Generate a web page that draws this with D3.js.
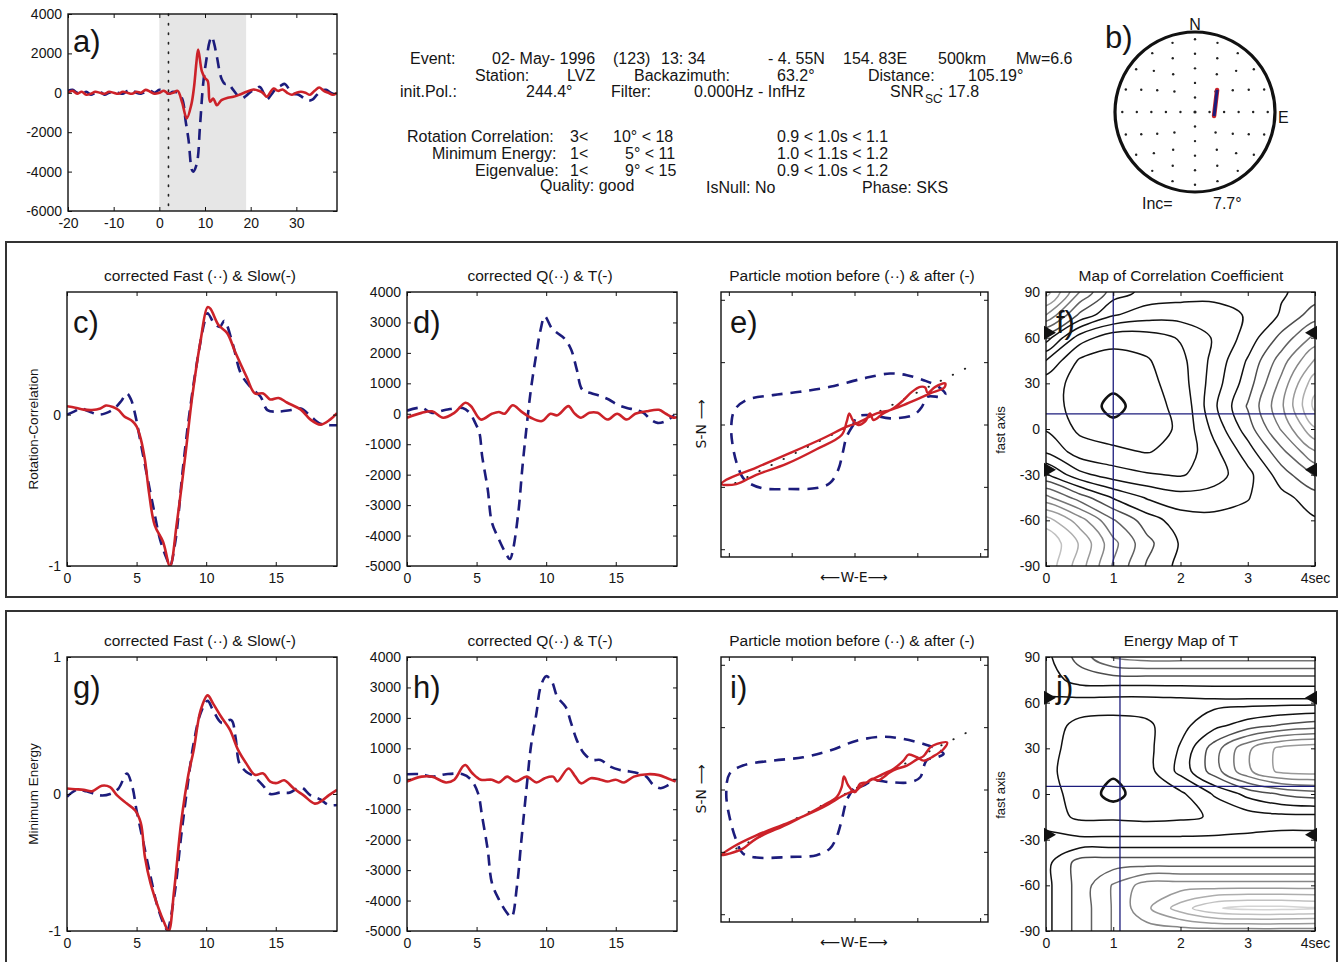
<!DOCTYPE html>
<html><head><meta charset="utf-8">
<script src="https://cdn.jsdelivr.net/npm/d3@7"></script>
<style>body{margin:0;background:#fff}svg{display:block}</style>
</head><body><svg id="fig" width="1341" height="962"></svg>
<script>
// ---------------- DATA ----------------
// panel a: raw Q (dashed) and T (solid) seismograms [time s, amplitude]
const seisQ = [[-20,100],[-19,150],[-18,0],[-17,-50],[-16,50],[-15,-100],[-14,0],[-13,50],[-12,-100],[-11,0],[-10,50],[-9,0],[-8,-50],[-7,100],[-6,150],[-5,0],[-4,-50],[-3,50],[-2,100],[-1,0],[0,150],[1,100],[2,-50],[3,50],[4,0],[5,-300],[5.8,-1500],[6.4,-2400],[7.1,-3900],[7.4,-4000],[8.2,-3600],[8.9,-1700],[9.6,470],[10.4,1830],[11.0,2600],[11.5,2850],[12.0,2500],[12.6,1830],[13.6,730],[14.4,450],[15.1,470],[16,200],[17,-100],[18,-300],[19,-150],[20,50],[21,150],[22,300],[23,-100],[23.5,-350],[24.5,-100],[25.5,200],[26.5,350],[27.5,450],[28.5,150],[29.5,-50],[30.5,-100],[31.5,-250],[32.5,-400],[33.5,-350],[34.5,-100],[35.5,100],[36.5,150],[37.5,0],[38.9,-100]];
const seisT = [[-20,0],[-19,100],[-18,-50],[-17,50],[-16,-100],[-15,-50],[-14,50],[-13,0],[-12,-50],[-11,50],[-10,0],[-9,-50],[-8,50],[-7,0],[-6,-50],[-5,50],[-4,0],[-3,150],[-2,50],[-1,-50],[0,0],[1,100],[2,-50],[3,0],[4,100],[5,-500],[6,-1300],[7,-600],[7.6,300],[8.1,1500],[8.5,2200],[9.3,1100],[10,750],[10.6,600],[11.1,-450],[11.8,-290],[12.6,-630],[13.6,-370],[15,-250],[16.2,-200],[17.5,-100],[19.1,50],[20.6,170],[21.8,100],[22.8,-30],[23.5,-200],[25,220],[26,100],[27,170],[28,0],[29,-100],[30,0],[31,50],[32,0],[33,-100],[34,100],[35,270],[36,100],[37,0],[38,-100],[38.9,0]];
const windowStart = 0, windowEnd = 19, pickTime = 2;
const aXTicks = [-20,-10,0,10,20,30], aYTicks = [-6000,-4000,-2000,0,2000,4000];

// panel b: stereonet
const stereoRings = [1,2,3,4,5], stereoDotsPerRing = [4,8,12,16,20];
const stereoStick = [[1.31,-0.28],[1.52,1.52]];
const incidence = "7.7°";

// header lines [text, x, y]
const headerTexts = [
 ["Event:",410,64],["02- May- 1996",492,64],["(123)",613,64],["13: 34",661,64],["- 4. 55N",768,64],["154. 83E",843,64],["500km",938,64],["Mw=6.6",1016,64],
 ["Station:",475,81],["LVZ",567,81],["Backazimuth:",634,81],["63.2°",777,81],["Distance:",868,81],["105.19°",968,81],
 ["init.Pol.:",400,97],["244.4°",526,97],["Filter:",611,97],["0.000Hz - InfHz",694,97],["SNR",890,97],[": 17.8",939,97],
 ["Rotation Correlation:",407,142],["3<",570,142],["10° < 18",613,142],["0.9 < 1.0s < 1.1",777,142],
 ["Minimum Energy:",432,159],["1<",570,159],["5° < 11",625,159],["1.0 < 1.1s < 1.2",777,159],
 ["Eigenvalue:",475,176],["1<",570,176],["9° < 15",625,176],["0.9 < 1.0s < 1.2",777,176],
 ["Quality: good",540,191],["IsNull: No",706,193],["Phase: SKS",862,193]
];

// c) rotation-correlation corrected fast/slow (normalised)
const rcFast = [[0,0.0],[0.5,0.02],[1.0,0.04],[1.6,0.02],[2.3,0.0],[2.8,0.01],[3.4,0.04],[3.9,0.09],[4.3,0.14],[4.6,0.1],[4.9,0.0],[5.2,-0.14],[5.7,-0.38],[6.2,-0.61],[6.7,-0.83],[7.2,-0.96],[7.4,-1.0],[7.8,-0.83],[8.3,-0.38],[8.8,0.01],[9.4,0.38],[9.9,0.62],[10.1,0.67],[10.6,0.60],[11.0,0.58],[11.3,0.62],[11.9,0.47],[12.5,0.27],[13.2,0.18],[13.9,0.12],[14.4,0.03],[15.1,0.02],[16.1,0.03],[16.8,0.04],[17.5,-0.01],[18.2,-0.06],[18.9,-0.07],[19.4,-0.07]];
const rcSlow = [[0,0.055],[0.6,0.045],[1.2,0.033],[1.8,0.03],[2.4,0.04],[2.8,0.06],[3.3,0.05],[3.7,0.03],[4.1,-0.01],[4.7,-0.044],[5.0,-0.077],[5.3,-0.16],[5.6,-0.30],[5.9,-0.52],[6.3,-0.73],[6.9,-0.84],[7.4,-1.0],[7.9,-0.71],[8.5,-0.27],[9.0,0.12],[9.6,0.49],[10.1,0.71],[10.3,0.70],[10.9,0.59],[11.5,0.54],[12.1,0.41],[12.9,0.25],[13.5,0.14],[14.1,0.14],[14.6,0.10],[15.2,0.11],[15.8,0.08],[16.8,0.033],[17.5,-0.033],[18.2,-0.066],[18.9,-0.033],[19.4,0.01]];
// d) corrected Q / T (rotation correlation)
const rcQ = [[0,100],[1.0,200],[1.8,30],[2.8,130],[4.0,190],[4.5,30],[4.9,-300],[5.2,-620],[5.4,-1390],[5.8,-2480],[6.1,-3570],[6.6,-4120],[7.0,-4500],[7.4,-4770],[7.6,-4500],[8.0,-3240],[8.3,-1720],[8.6,-400],[8.9,790],[9.3,1990],[9.6,2760],[9.9,3200],[10.4,2810],[10.8,2650],[11.3,2480],[11.8,2100],[12.2,1450],[12.6,790],[13.2,680],[13.9,580],[14.5,470],[15.1,300],[15.8,190],[16.4,130],[17.0,30],[17.5,-190],[18.0,-300],[18.6,-240],[19.2,-50]];
const rcT = [[0,-130],[1.05,30],[1.8,80],[2.6,-130],[3.4,30],[4.2,360],[4.6,250],[5.3,-190],[6.1,0],[6.6,60],[7.0,0],[7.6,280],[8.2,80],[8.9,-130],[9.7,-240],[10.3,0],[10.8,-50],[11.6,250],[12.0,30],[12.5,-130],[13.1,30],[13.7,30],[14.4,-190],[15.1,0],[15.8,-190],[16.4,0],[17.2,80],[18.1,130],[18.6,0],[19.2,-130],[19.4,-100]];
// e) particle motion before / after (E, N)
const rcBefore = [[-38,-16],[-249,-390],[-377,-920],[-518,-1454],[-783,-1879],[-1208,-2038],[-2061,-2070],[-2965,-2038],[-3498,-1773],[-3713,-1348],[-3872,-709],[-3924,-70],[-3818,463],[-3444,783],[-2594,943],[-1741,1048],[-783,1208],[281,1476],[1134,1636],[1668,1582],[2198,1422],[2677,1208],[2891,974],[2786,888],[2307,888],[2147,569],[1879,304],[1134,198],[495,304],[70,249],[-38,-16]];
const rcAfter = [[70,38],[-249,-70],[-997,-441],[-2061,-920],[-3125,-1380],[-4083,-1773],[-4240,-1911],[-3764,-1911],[-3125,-1613],[-2166,-1262],[-1208,-792],[-409,-335],[-249,89],[-166,358],[-58,144],[121,-16],[335,89],[495,358],[601,144],[920,358],[1240,518],[1559,783],[1827,1048],[2093,1208],[2252,1188],[2326,1016],[2572,1208],[2891,1316],[2860,1188],[2412,997],[1987,805],[1559,623],[1134,463],[709,358],[281,144],[70,38]];
const rcPol = [[-3800,-1880],[3640,1850]];
// f) correlation map (rows: fast axis 90..-90, cols: delay 0..4 s)
const mapDt = [0,0.5,1,1.5,2,2.5,3,3.5,4];
const mapPhi = [90,75,60,45,30,15,0,-15,-30,-45,-60,-75,-90];
const corrMap = [
 [12.0,8.5,6.0,5.2,5.0,4.9,5.0,5.4,5.9],
 [9.5,6.3,4.6,4.0,3.9,4.0,4.6,5.6,7.0],
 [6.0,3.0,1.9,2.0,2.6,3.6,4.9,6.8,8.8],
 [3.5,1.35,1.1,1.4,2.2,3.8,5.6,8.0,10.6],
 [1.9,1.2,0.9,1.2,2.0,4.0,6.0,8.8,12.2],
 [1.56,1.45,0.0,1.35,1.6,4.3,6.6,9.3,12.8],
 [2.4,1.3,1.0,1.2,1.6,3.8,6.0,8.6,11.4],
 [3.4,2.0,1.7,1.45,1.8,3.2,5.0,7.2,9.4],
 [5.6,3.8,3.0,2.6,2.4,3.0,4.2,6.0,7.6],
 [8.8,7.0,5.4,4.4,3.9,4.0,4.45,5.2,6.0],
 [12.0,10.0,7.6,6.0,5.0,4.8,4.8,5.0,5.4],
 [13.4,11.4,8.8,6.8,5.4,5.0,4.9,5.0,5.2],
 [13.2,11.0,8.4,6.4,5.2,5.0,5.0,5.1,5.3]];
const rcBest = [1.0, 10];
// g) minimum energy corrected fast/slow
const meFast = [[0,-0.02],[0.7,0.03],[1.4,0.02],[2.4,-0.01],[3.1,0.0],[3.7,0.04],[4.3,0.15],[4.7,0.05],[5.0,-0.12],[5.5,-0.36],[6.0,-0.60],[6.5,-0.82],[7.0,-0.96],[7.2,-0.99],[7.7,-0.75],[8.2,-0.31],[8.7,0.09],[9.1,0.37],[9.6,0.59],[10.1,0.68],[10.5,0.61],[11.1,0.52],[11.8,0.54],[12.1,0.42],[12.4,0.22],[12.9,0.16],[13.4,0.13],[14.1,0.06],[14.6,0.0],[15.3,0.01],[16.0,0.01],[16.8,0.05],[17.5,-0.01],[18.2,-0.04],[18.8,-0.08],[19.4,-0.08]];
const meSlow = [[0,0.04],[0.6,0.035],[1.2,0.03],[1.8,0.02],[2.5,0.06],[3.1,0.05],[3.6,-0.01],[4.3,-0.07],[4.9,-0.12],[5.3,-0.21],[5.6,-0.46],[6.0,-0.65],[6.6,-0.84],[6.95,-0.93],[7.3,-1.0],[7.7,-0.70],[8.2,-0.21],[8.7,0.13],[9.1,0.32],[9.6,0.61],[10.1,0.72],[10.5,0.66],[11.1,0.56],[11.7,0.47],[12.3,0.32],[12.9,0.22],[13.5,0.14],[14.1,0.15],[14.6,0.09],[15.1,0.08],[15.6,0.1],[16.3,0.04],[17.0,-0.01],[17.8,-0.07],[18.3,-0.05],[18.8,-0.01],[19.4,0.03]];
// h) corrected Q / T (minimum energy)
const meQ = [[0,150],[1,150],[1.8,70],[2.8,150],[4.0,150],[4.6,-30],[5.1,-470],[5.4,-1240],[5.8,-2330],[6.1,-3420],[6.6,-3960],[7.1,-4350],[7.5,-4550],[7.9,-3530],[8.2,-2110],[8.6,-260],[8.9,1050],[9.3,2150],[9.6,3020],[10.0,3370],[10.4,3200],[10.8,2690],[11.4,2360],[11.8,1820],[12.2,1270],[12.7,840],[13.3,620],[13.9,620],[14.6,400],[15.3,290],[16.0,240],[16.6,180],[17.2,70],[17.7,-200],[18.2,-310],[18.8,-200],[19.3,-30]];
const meT = [[0,-90],[1.05,70],[1.8,70],[2.8,-120],[3.4,-30],[4.0,400],[4.2,450],[4.7,180],[5.3,-30],[6.1,-30],[6.6,-120],[7.2,70],[7.8,-90],[8.6,70],[9.3,-120],[9.9,20],[10.5,70],[10.8,-90],[11.6,340],[12.1,70],[12.5,-150],[13.2,20],[13.9,-30],[14.4,-90],[15.0,-30],[15.6,-120],[16.3,70],[17.3,150],[18.1,120],[18.7,20],[19.3,-90]];
// i) particle motion (minimum energy)
const meBefore = [[-38,22],[-249,-351],[-409,-990],[-569,-1524],[-783,-1895],[-1208,-2109],[-2061,-2163],[-3125,-2182],[-3553,-2054],[-3764,-1629],[-3978,-885],[-4083,-137],[-3978,502],[-3553,767],[-2594,927],[-1636,1032],[-783,1246],[70,1566],[920,1693],[1559,1620],[2198,1460],[2626,1300],[2837,1141],[2626,1032],[2307,949],[2198,712],[2093,393],[1773,233],[1134,233],[601,288],[281,128],[-38,22]];
const meAfter = [[70,-32],[-249,-137],[-997,-565],[-2061,-1045],[-3125,-1470],[-3872,-1843],[-4240,-2109],[-3978,-2054],[-3553,-1895],[-3125,-1575],[-2061,-1077],[-997,-511],[-569,-246],[-409,73],[-335,415],[-198,128],[16,-86],[176,182],[390,233],[550,342],[760,288],[920,393],[1134,553],[1348,661],[1668,767],[1987,965],[2198,1070],[2412,1351],[2626,1460],[2946,1511],[2837,1300],[2518,1070],[2198,927],[1987,1032],[1719,1118],[1559,927],[1240,661],[920,502],[495,288],[176,73],[70,-32]];
const mePol = [[-3764,-1895],[3690,1885]];
// j) energy map of T
const energyMap = [
 [3.2,4.9,6.6,7.0,7.0,7.0,7.0,7.0,7.0],
 [3.0,3.9,4.0,4.0,4.0,4.0,4.0,4.0,4.0],
 [2.3,2.1,2.0,2.0,2.1,2.2,2.2,2.2,2.2],
 [2.0,1.2,1.1,1.3,2.2,3.2,4.0,4.6,5.0],
 [1.9,1.0,0.8,1.2,2.6,5.0,7.3,8.8,9.2],
 [1.8,0.9,0.7,1.1,2.8,5.0,7.3,8.8,9.0],
 [1.8,1.2,0.1,1.2,1.3,2.6,3.8,4.6,5.0],
 [2.0,1.3,1.3,1.2,1.3,1.6,2.0,2.2,2.2],
 [2.8,2.7,2.7,2.7,2.7,2.7,2.7,2.7,2.7],
 [3.2,4.9,5.0,5.0,5.0,5.0,5.0,5.0,5.0],
 [3.2,4.9,6.6,8.0,8.0,8.0,8.0,8.0,8.0],
 [3.2,4.9,6.6,8.3,10.0,11.4,11.8,11.8,11.6],
 [3.2,4.9,6.6,7.0,7.0,7.0,7.0,7.0,7.0]];
const meBest = [1.1, 5];
const backazimuth = 63.2;
const traceTicks = [0,5,10,15], pmTicks = [-4000,-2000,0,2000,4000];
const mapXTicks = [0,1,2,3,4], mapYTicks = [-90,-60,-30,0,30,60,90];

// ---------------- DRAWING ----------------
const svg = d3.select('#fig');
const F = '"Liberation Sans", Arial, Helvetica, sans-serif';
const NAVY = '#1c1c7c', RED = '#cc2229';

function txt(x, y, s, o = {}) {
  const t = svg.append('text').attr('x', x).attr('y', y).text(s)
    .attr('font-family', o.family || F).attr('font-size', o.size || 16).attr('fill', o.fill || '#151515');
  if (o.anchor) t.attr('text-anchor', o.anchor);
  if (o.rotate) t.attr('transform', `rotate(${o.rotate},${x},${y})`);
  return t;
}
let clipN = 0;
function clip(x, y) {
  const id = 'clp' + (clipN++);
  svg.append('clipPath').attr('id', id).append('rect')
    .attr('x', x.range()[0]).attr('y', y.range()[1])
    .attr('width', x.range()[1] - x.range()[0]).attr('height', y.range()[0] - y.range()[1]);
  return `url(#${id})`;
}
function axes(x, y, o) {
  const g = svg.append('g');
  const X0 = x.range()[0], X1 = x.range()[1], Yb = y.range()[0], Yt = y.range()[1];
  const none = () => '';
  const fx = o.xf || (d => String(d)), fy = o.yf || (d => String(d));
  g.append('g').attr('transform', `translate(0,${Yb})`).call(d3.axisBottom(x).tickValues(o.xt).tickSize(-4).tickPadding(7).tickFormat(o.noLabels ? none : fx));
  g.append('g').attr('transform', `translate(0,${Yt})`).call(d3.axisTop(x).tickValues(o.xt).tickSize(-4).tickFormat(none));
  g.append('g').attr('transform', `translate(${X0},0)`).call(d3.axisLeft(y).tickValues(o.yt).tickSize(-4).tickPadding(6).tickFormat(o.noLabels ? none : fy));
  g.append('g').attr('transform', `translate(${X1},0)`).call(d3.axisRight(y).tickValues(o.yt).tickSize(-4).tickFormat(none));
  g.selectAll('.domain').remove();
  g.selectAll('.tick line').attr('stroke', '#111');
  g.selectAll('text').attr('font-family', F).attr('font-size', 14).attr('fill', '#151515');
  g.append('rect').attr('x', X0).attr('y', Yt).attr('width', X1 - X0).attr('height', Yb - Yt)
    .attr('fill', 'none').attr('stroke', '#111').attr('stroke-width', 1.4);
}
function trace(x, y, data, dashed, cp, w) {
  svg.append('path').datum(data).attr('clip-path', cp)
    .attr('d', d3.line().x(d => x(d[0])).y(d => y(d[1])).curve(d3.curveCatmullRom.alpha(0.5)))
    .attr('fill', 'none').attr('stroke', dashed ? NAVY : RED).attr('stroke-width', w || 2.6)
    .attr('stroke-dasharray', dashed ? '11,7' : null).attr('stroke-linecap', 'butt');
}

// ----- big frames
svg.append('rect').attr('x', 6).attr('y', 242).attr('width', 1331).attr('height', 355).attr('fill', 'none').attr('stroke', '#333').attr('stroke-width', 2);
svg.append('rect').attr('x', 6).attr('y', 611).attr('width', 1331).attr('height', 380).attr('fill', 'none').attr('stroke', '#333').attr('stroke-width', 2);

// ----- panel a
{
  const x = d3.scaleLinear().domain([-20, 38.9]).range([68, 337]);
  const y = d3.scaleLinear().domain([-6000, 4000]).range([211, 14]);
  const cp = clip(x, y);
  svg.append('rect').attr('x', x(windowStart)).attr('y', y(4000)).attr('width', x(windowEnd) - x(windowStart)).attr('height', y(-6000) - y(4000)).attr('fill', '#e6e6e6');
  svg.append('line').attr('x1', x(pickTime)).attr('x2', x(pickTime)).attr('y1', y(4000)).attr('y2', y(-6000))
    .attr('stroke', '#222').attr('stroke-width', 1.6).attr('stroke-dasharray', '1.5,8').attr('stroke-linecap', 'round');
  trace(x, y, seisQ, true, cp, 2.6);
  trace(x, y, seisT, false, cp, 2.6);
  axes(x, y, { xt: aXTicks, yt: aYTicks });
  txt(73, 52, 'a)', { size: 31 });
}

// ----- header text
headerTexts.forEach(d => txt(d[1], d[2], d[0], { size: 16 }));
txt(925, 103, 'SC', { size: 12 });

// ----- panel b
{
  const cx = 1195, cy = 112;
  const r = d3.scaleLinear().domain([0, 5.5]).range([0, 80]);
  const g = svg.append('g');
  g.append('circle').attr('cx', cx).attr('cy', cy).attr('r', r(5.5)).attr('fill', 'none').attr('stroke', '#111').attr('stroke-width', 3.2);
  g.append('circle').attr('cx', cx).attr('cy', cy).attr('r', 1.6).attr('fill', '#222');
  stereoRings.forEach((k, i) => {
    const nP = stereoDotsPerRing[i];
    d3.range(nP).forEach(j => {
      const a = j / nP * 2 * Math.PI;
      g.append('circle').attr('cx', cx + r(k) * Math.sin(a)).attr('cy', cy - r(k) * Math.cos(a)).attr('r', 1.2).attr('fill', '#222');
    });
  });
  const sx = v => cx + r(v), sy = v => cy - r(v);
  g.append('line').attr('x1', sx(stereoStick[0][0])).attr('y1', sy(stereoStick[0][1])).attr('x2', sx(stereoStick[1][0])).attr('y2', sy(stereoStick[1][1]))
    .attr('stroke', RED).attr('stroke-width', 4.5).attr('stroke-linecap', 'round');
  g.append('line').attr('x1', sx(stereoStick[0][0])).attr('y1', sy(stereoStick[0][1])).attr('x2', sx(stereoStick[1][0])).attr('y2', sy(stereoStick[1][1]))
    .attr('stroke', NAVY).attr('stroke-width', 3);
  txt(1195, 30, 'N', { size: 16, anchor: 'middle' });
  txt(1278, 123, 'E', { size: 16 });
  txt(1105, 48, 'b)', { size: 31 });
  txt(1142, 209, 'Inc=', { size: 16 });
  txt(1213, 209, incidence, { size: 16 });
}

// ----- time-series panels
function traces(top, xl, fast, slow, ydom, yt, ylab, title, label, yf) {
  const x = d3.scaleLinear().domain([0, 19.4]).range([xl, xl + 270]);
  const y = d3.scaleLinear().domain(ydom).range([top + 274, top]);
  const cp = clip(x, y);
  trace(x, y, fast, true, cp, 2.6);
  trace(x, y, slow, false, cp, 2.6);
  axes(x, y, { xt: traceTicks, yt: yt, yf: yf });
  txt(xl + 133, top - 11, title, { size: 15.5, anchor: 'middle' });
  txt(xl + 6, top + 41, label, { size: 31 });
  if (ylab) txt(38, top + 137, ylab, { size: 13.5, anchor: 'middle', rotate: -90 });
}
traces(292, 67, rcFast, rcSlow, [-1, 0.81], [-1, 0], 'Rotation-Correlation', 'corrected Fast (··) & Slow(-)', 'c)');
traces(292, 407, rcQ, rcT, [-5000, 4000], d3.range(-5000, 4001, 1000), null, 'corrected Q(··) & T(-)', 'd)');
traces(657, 67, meFast, meSlow, [-1, 1], [-1, 0, 1], 'Minimum Energy', 'corrected Fast (··) & Slow(-)', 'g)');
traces(657, 407, meQ, meT, [-5000, 4000], d3.range(-5000, 4001, 1000), null, 'corrected Q(··) & T(-)', 'h)');

// ----- particle motion panels
function particle(top, before, after, pol, label) {
  const x = d3.scaleLinear().domain([-4250, 4250]).range([721, 988]);
  const y = d3.scaleLinear().domain([-4250, 4250]).range([top + 265, top]);
  const cp = clip(x, y);
  const ln = d3.line().x(d => x(d[0])).y(d => y(d[1]));
  svg.append('path').datum(pol).attr('d', ln).attr('fill', 'none').attr('stroke', '#222').attr('stroke-width', 1.8)
    .attr('stroke-dasharray', '0.5,13').attr('stroke-linecap', 'round');
  svg.append('path').datum(before).attr('clip-path', cp).attr('d', ln.curve(d3.curveCatmullRom.alpha(0.5)))
    .attr('fill', 'none').attr('stroke', NAVY).attr('stroke-width', 2.6).attr('stroke-dasharray', '11,8');
  svg.append('path').datum(after).attr('clip-path', cp).attr('d', ln.curve(d3.curveCatmullRom.alpha(0.5)))
    .attr('fill', 'none').attr('stroke', RED).attr('stroke-width', 2.4);
  axes(x, y, { xt: pmTicks, yt: pmTicks, noLabels: true });
  txt(852, top - 11, 'Particle motion before (··) & after (-)', { size: 15.5, anchor: 'middle' });
  txt(730, top + 41, label, { size: 31 });
  txt(706, top + 132, 'S-N ⟶', { size: 14, anchor: 'middle', rotate: -90, family: '"DejaVu Sans", sans-serif' });
  txt(854, top + 290, '⟵W-E⟶', { size: 14, anchor: 'middle', family: '"DejaVu Sans", sans-serif' });
}
particle(292, rcBefore, rcAfter, rcPol, 'e)');
particle(657, meBefore, meAfter, mePol, 'i)');

// ----- contour map panels
function mapPanel(top, grid, best, title, label, lvMax, blackTo) {
  const x = d3.scaleLinear().domain([0, 4]).range([1046, 1315]);
  const y = d3.scaleLinear().domain([-90, 90]).range([top + 274, top]);
  const cp = clip(x, y);
  const rows = grid.length, cols = grid[0].length, n = cols + 2, m = rows + 2;
  const vals = [];
  for (let j = 0; j < m; j++) {
    const r = grid[Math.max(0, Math.min(rows - 1, j - 1))];
    for (let i = 0; i < n; i++) vals.push(r[Math.max(0, Math.min(cols - 1, i - 1))]);
  }
  const dStep = mapDt[1] - mapDt[0], pStep = mapPhi[1] - mapPhi[0];
  const gx = X => mapDt[0] + (X - 1.5) * dStep, gy = Y => mapPhi[0] + (Y - 1.5) * pStep;
  const line = d3.line().x(p => x(gx(p[0]))).y(p => y(gy(p[1]))).curve(d3.curveCatmullRomClosed.alpha(0.5));
  const levels = d3.range(0.5, lvMax, 1);
  const gray = d3.interpolateRgb('#3a3a3a', '#d4d4d4');
  const col = v => v <= blackTo ? '#111' : gray((v - blackTo) / (lvMax - 0.5 - blackTo));
  const g = svg.append('g').attr('clip-path', cp).attr('fill', 'none');
  d3.contours().size([n, m]).thresholds(levels)(vals).forEach(c => {
    c.coordinates.forEach(poly => poly.forEach(ring => {
      g.append('path').attr('d', line(ring.slice(0, -1))).attr('stroke', col(c.value))
        .attr('stroke-width', c.value < 1 ? 2.6 : 1.5);
    }));
  });
  g.append('line').attr('x1', x(best[0])).attr('x2', x(best[0])).attr('y1', y(90)).attr('y2', y(-90)).attr('stroke', NAVY).attr('stroke-width', 1.3);
  g.append('line').attr('x1', x(0)).attr('x2', x(4)).attr('y1', y(best[1])).attr('y2', y(best[1])).attr('stroke', NAVY).attr('stroke-width', 1.3);
  axes(x, y, { xt: mapXTicks, yt: mapYTicks, xf: d => d === 4 ? '4sec' : String(d) });
  [backazimuth, backazimuth - 90].forEach(p => {
    const yy = y(p);
    svg.append('path').attr('d', `M${x(0) - 2},${yy - 7}L${x(0) + 10},${yy}L${x(0) - 2},${yy + 7}Z`).attr('fill', '#111');
    svg.append('path').attr('d', `M${x(4) + 2},${yy - 7}L${x(4) - 10},${yy}L${x(4) + 2},${yy + 7}Z`).attr('fill', '#111');
  });
  txt(1181, top - 11, title, { size: 15.5, anchor: 'middle' });
  txt(1056, top + 41, label, { size: 31 });
  txt(1005, top + 138, 'fast axis', { size: 13, anchor: 'middle', rotate: -90 });
}
mapPanel(292, corrMap, rcBest, 'Map of Correlation Coefficient', 'f)', 14, 5.5);
mapPanel(657, energyMap, meBest, 'Energy Map of T', 'j)', 12, 3.5);
</script></body></html>
